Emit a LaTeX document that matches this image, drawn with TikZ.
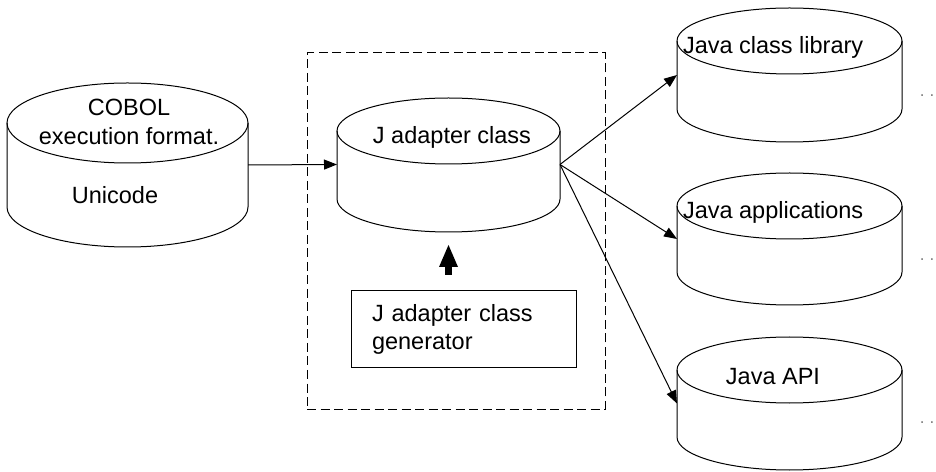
\documentclass[tikz,border=0pt]{standalone}
\usepackage{fontspec}
\setmainfont{Liberation Sans}
\usetikzlibrary{arrows.meta}

\begin{document}
\begin{tikzpicture}[x=1pt,y=1pt,
	every node/.style={font=\fontsize{23.5}{28.5}\selectfont, inner sep=0pt, outer sep=0pt},
	line/.style={line width=1pt},
	area/.style={},
	link/.style={line width=1pt, -{Triangle[length=13pt,width=10pt]}},
	push/.style={line width=7pt, -{Triangle[length=22pt,width=19pt,line width=0pt]}},
	more/.style={font=\fontsize{17}{17}\selectfont, text=gray}
	]
	\useasboundingbox (0,0) rectangle (936,471);

	% dashed frame round the adapter
	\node[draw, line width=1pt, dash pattern=on 9pt off 4.5pt,
		minimum width=298pt, minimum height=356pt] (tool) at (456,240) {};

	% cylinders
	\draw[line] (7,348) -- (7,264) arc[start angle=180,end angle=360,x radius=120.5,y radius=40] -- (248,348);
	\draw[line] (127.5,348) ellipse[x radius=120.5,y radius=40];
	\node[area, minimum width=241pt, minimum height=164pt] (cobol) at (127.5,306) {};

	\draw[line] (337,340) -- (337,272) arc[start angle=180,end angle=360,x radius=111.5,y radius=33] -- (560,340);
	\draw[line] (448.5,340) ellipse[x radius=111.5,y radius=33];
	\node[area, minimum width=223pt, minimum height=133pt] (jadapter) at (448.5,306.5) {};

	\draw[line] (677,430) -- (677,362) arc[start angle=180,end angle=360,x radius=112.5,y radius=33] -- (902,430);
	\draw[line] (789.5,430) ellipse[x radius=112.5,y radius=33];
	\node[area, minimum width=225pt, minimum height=134pt] (lib) at (789.5,396) {};

	\draw[line] (677,265) -- (677,199) arc[start angle=180,end angle=360,x radius=112.5,y radius=33] -- (902,265);
	\draw[line] (789.5,265) ellipse[x radius=112.5,y radius=33];
	\node[area, minimum width=225pt, minimum height=132pt] (apps) at (789.5,232) {};

	\draw[line] (677,101) -- (677,34) arc[start angle=180,end angle=360,x radius=112.5,y radius=33] -- (902,101);
	\draw[line] (789.5,101) ellipse[x radius=112.5,y radius=33];
	\node[area, minimum width=225pt, minimum height=133pt] (api) at (789.5,67.5) {};

	\node[draw, line width=1pt, minimum width=225pt, minimum height=77pt,
		text width=183pt, align=left] (gen) at (463.5,141.5) {J adapter class\\generator};

	% labels
	\node[align=center] (cobolname) at (129,349) {COBOL\\execution format.};
	\node (cobolcode) at (115,276) {Unicode};
	\node (jname) at (452,334) {J adapter class};
	\node[anchor=west] (libname) at (683,424) {Java class library};
	\node[anchor=west] (appsname) at (683,259) {Java applications};
	\node (apiname) at (773,94) {Java API};

	\node[more] (libmore) at (927,375) {.\kern5pt.};
	\node[more] (appsmore) at (927,211) {.\kern5pt.};
	\node[more] (apimore) at (927,48) {.\kern5pt.};

	% connectors
	\draw[link] (cobol.east) -- (jadapter.west);
	\draw[link] (jadapter.east) -- (lib.west);
	\draw[link] (jadapter.east) -- (apps.west);
	\draw[link] (jadapter.east) -- (api.west);
	\draw[push, shorten <=16pt, shorten >=14pt] (jadapter.south |- gen.north) -- (jadapter.south);
\end{tikzpicture}
\end{document}
